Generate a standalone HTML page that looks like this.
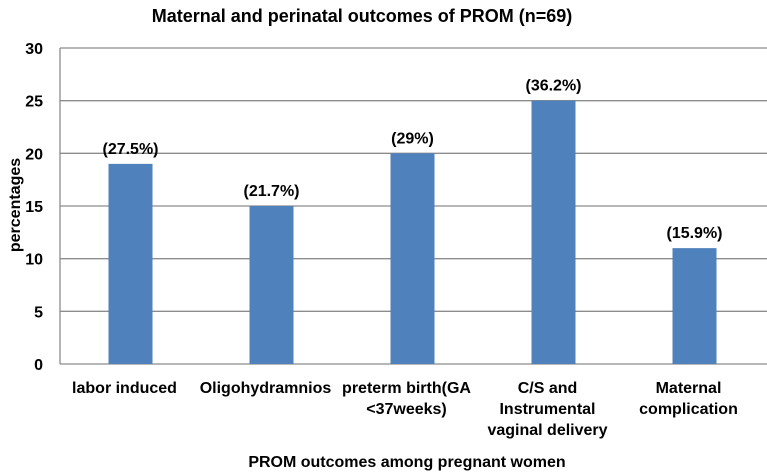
<!DOCTYPE html>
<html><head><meta charset="utf-8"><style>
body{margin:0;background:#fff}
svg{display:block;font-family:"Liberation Sans",Arial,sans-serif;font-weight:bold}
</style></head><body>
<svg id="chart" width="767" height="474">
<text x="362" y="22" text-anchor="middle" font-size="18">Maternal and  perinatal outcomes of PROM (n=69)</text>
<text transform="translate(20,205) rotate(-90)" text-anchor="middle" font-size="16">percentages</text>
<text x="407" y="467" text-anchor="middle" font-size="16">PROM outcomes  among pregnant women</text>
<g id="grid"></g><g id="bars"></g><g id="labels"></g>
</svg>
<script>
const categories=[["labor induced"],["Oligohydramnios"],["preterm birth(GA","<37weeks)"],["C/S and","Instrumental","vaginal delivery"],["Maternal","complication"]];
const values=[19,15,20,25,11];
const valueLabels=["(27.5%)","(21.7%)","(29%)","(36.2%)","(15.9%)"];
const yTicks=[0,5,10,15,20,25,30];
const NS="http://www.w3.org/2000/svg";
const L=60,R=765,T=48,B=364;
const y=v=>B-(v/30)*(B-T);
const bw=(R-L)/categories.length;
const xc=i=>L+bw*(i+0.5);
function mk(tag,attrs,parent,text){const e=document.createElementNS(NS,tag);for(const k in attrs)e.setAttribute(k,attrs[k]);if(text!=null)e.textContent=text;parent.appendChild(e);return e;}
const g=document.getElementById('grid'),bars=document.getElementById('bars'),lab=document.getElementById('labels');
yTicks.forEach(t=>{
 const ln=mk('line',{x1:L,x2:R+2,y1:y(t),y2:y(t),stroke:'#8c8c8c','stroke-width':1.3},g);
 
 
 const tx=mk('text',{x:43,y:y(t)+6,'text-anchor':'end','font-size':16},g,String(t));
 
 
});
const ax=mk('line',{x1:L,x2:L,y1:T,y2:B,stroke:'#8c8c8c','stroke-width':1.3},g);


values.forEach((v,i)=>{
 const r=mk('rect',{x:xc(i)-22,y:y(v),width:44,height:B-y(v),fill:'#4f81bd'},bars);
 
 
 const vl=mk('text',{x:xc(i),y:y(v)-10,'text-anchor':'middle','font-size':16},lab,valueLabels[i]);
 
 
 const ct=mk('text',{'text-anchor':'middle','font-size':16},lab);
 
 
 categories[i].forEach((s,j)=>mk('tspan',{x:xc(i)-6,y:393+j*21},ct,s));
});
</script>
</body></html>
